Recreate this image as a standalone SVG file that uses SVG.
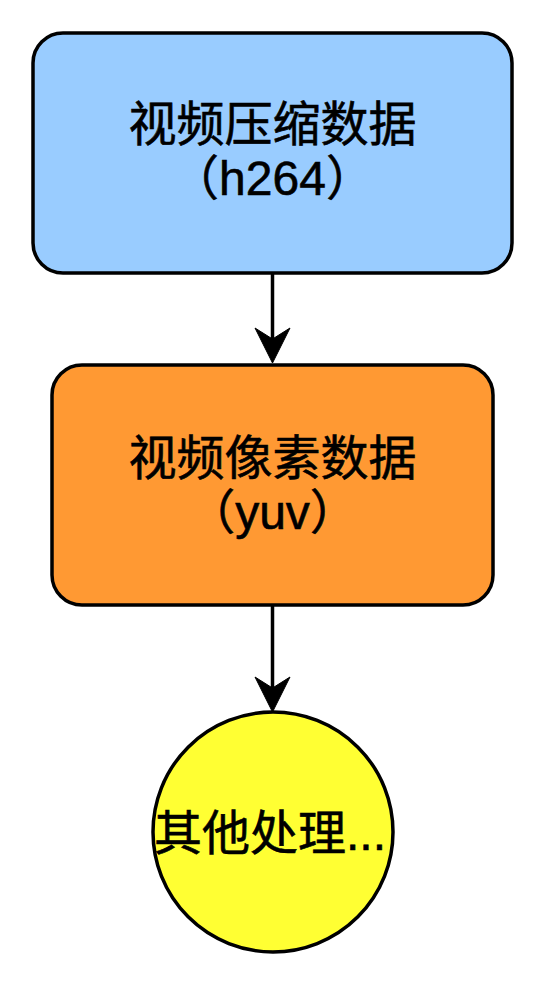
<svg xmlns="http://www.w3.org/2000/svg" width="548" height="988" viewBox="0 0 548 988">
  <style>
    .node { stroke: #000000; stroke-width: 3.5; }
    .label { font-family: "Liberation Sans", "Noto Sans CJK SC", sans-serif; font-size: 48px; fill: #000000; stroke: #000000; stroke-width: 0.6; text-anchor: middle; }
    .edge { stroke: #000000; stroke-width: 3.5; fill: none; }
    .head { fill: #000000; stroke: #000000; stroke-width: 1; stroke-linejoin: miter; }
  </style>
  <rect x="0" y="0" width="548" height="988" fill="#ffffff"/>
  <g id="connectors">
    <line class="edge" x1="272.5" y1="274" x2="272.5" y2="340"/>
    <polygon class="head" points="255,328 272.5,363 290,328 272.5,339"/>
    <line class="edge" x1="272.5" y1="606" x2="272.5" y2="690"/>
    <polygon class="head" points="255,677 272.5,712 290,677 272.5,688"/>
  </g>
  <g id="node-h264">
    <rect class="node" x="33" y="33" width="479" height="240" rx="30" ry="30" fill="#99CCFF"/>
    <text class="label" x="272.5" y="141">视频压缩数据</text>
    <text class="label" x="272.5" y="195">（h264）</text>
  </g>
  <g id="node-yuv">
    <rect class="node" x="52" y="365" width="441" height="240" rx="30" ry="30" fill="#FF9933"/>
    <text class="label" x="272.5" y="475">视频像素数据</text>
    <text class="label" x="272.5" y="529">（yuv）</text>
  </g>
  <g id="node-other">
    <circle class="node" cx="273" cy="832" r="120" fill="#FFFF33"/>
    <text class="label" x="270" y="850">其他处理...</text>
  </g>
</svg>
